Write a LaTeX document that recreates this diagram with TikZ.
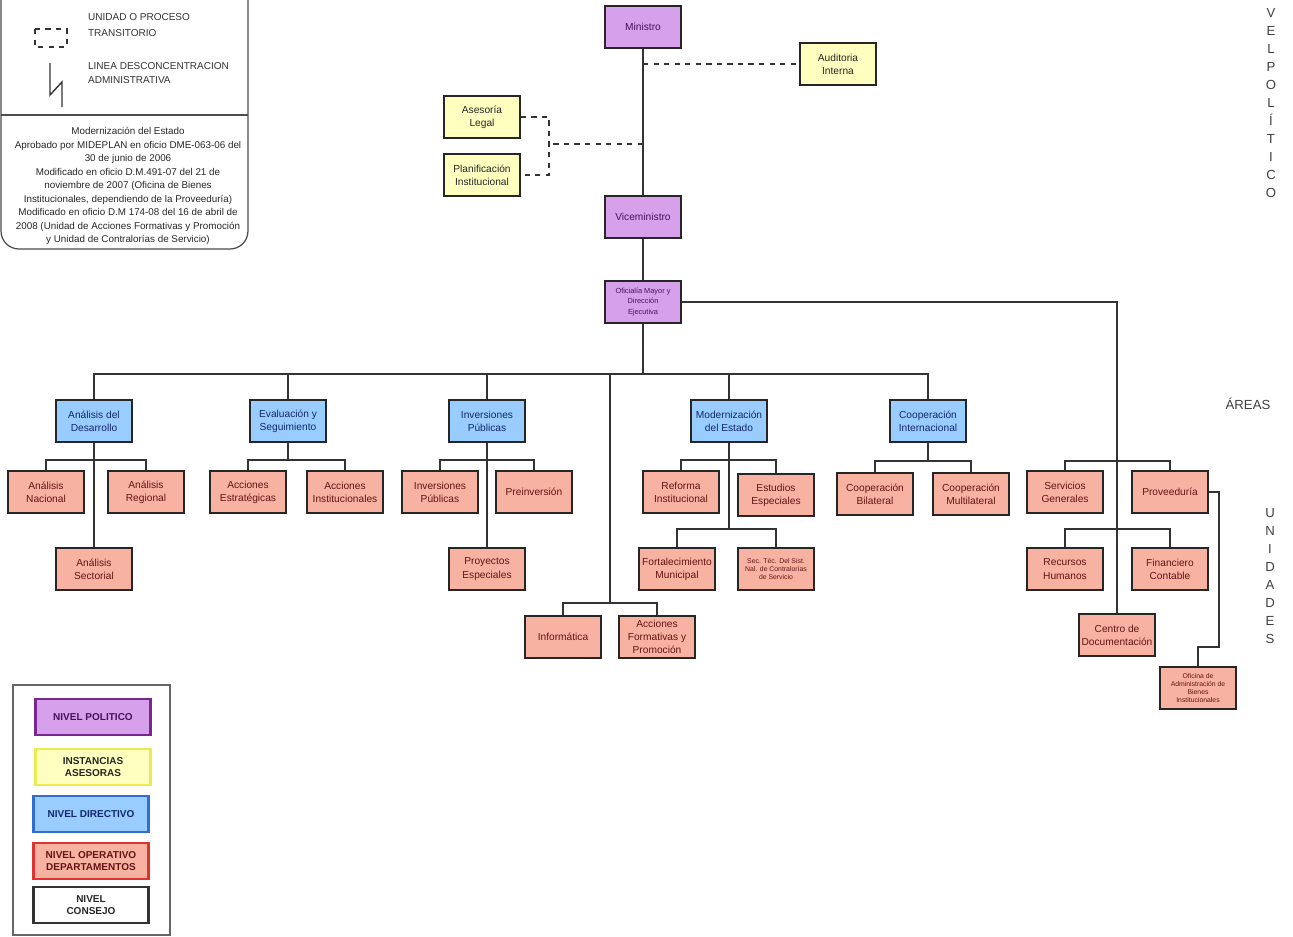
\documentclass[tikz,border=0pt]{standalone}
\usepackage{fontspec}
\setmainfont{Liberation Sans}
\usepackage{tikz}
\definecolor{polfill}{RGB}{214,160,234}
\definecolor{asefill}{RGB}{255,255,192}
\definecolor{dirfill}{RGB}{153,204,255}
\definecolor{opefill}{RGB}{248,178,162}
\definecolor{poltext}{RGB}{70,20,90}
\definecolor{dirtext}{RGB}{20,40,110}
\definecolor{opetext}{RGB}{100,20,20}
\definecolor{polborde}{RGB}{120,40,140}
\definecolor{aseborde}{RGB}{235,235,80}
\definecolor{dirborde}{RGB}{50,110,210}
\definecolor{opeborde}{RGB}{225,50,50}
\tikzstyle{unidad}=[rectangle, draw=black!85, line width=0.9pt, minimum width=1.52cm, minimum height=0.84cm, inner sep=1pt, align=center, font=\fontsize{5.8}{7.5}\selectfont]
\tikzstyle{politico}=[unidad, fill=polfill, text=poltext]
\tikzstyle{asesor}=[unidad, fill=asefill, text=black!85]
\tikzstyle{directivo}=[unidad, fill=dirfill, text=dirtext]
\tikzstyle{operativo}=[unidad, fill=opefill, text=opetext]
\tikzstyle{chico}=[font=\fontsize{3.9}{4.7}\selectfont]
\tikzstyle{nivel}=[rectangle, line width=1.4pt, minimum width=2.3cm, minimum height=0.72cm, inner sep=1pt, align=center, font=\bfseries\fontsize{5.7}{7.2}\selectfont]
\tikzstyle{linea}=[draw=black!80, line width=0.9pt]
\tikzstyle{enlace}=[linea, dashed]
\tikzstyle{rotulo}=[inner sep=1pt, text=black!80, font=\fontsize{5.7}{7}\selectfont]
\tikzstyle{nota}=[inner sep=1pt, align=center, text=black!85, font=\fontsize{5.6}{7.7}\selectfont]
\tikzstyle{letrero}=[inner sep=1pt, align=center, text=black!75, font=\fontsize{7.5}{10.2}\selectfont]

\begin{document}
\begin{tikzpicture}[x=0.02cm, y=-0.02cm]
\useasboundingbox (0,0) rectangle (1293,936);

\coordinate (bus) at (643,374);
\coordinate (binf) at (610,603);
\coordinate (bad) at (94,460);
\coordinate (bes) at (288,460);
\coordinate (bip) at (487,460);
\coordinate (bme) at (729,460);
\coordinate (bme2) at (729,529);
\coordinate (bci) at (928,461);
\coordinate (bof) at (1117,461);
\coordinate (bof2) at (1117,529);
\coordinate (bpv) at (1219,647);
\coordinate (jaud) at (643,64);
\coordinate (jase) at (643,144);
\coordinate (kase) at (549,144);

\node[politico] (min) at (643,27) {Ministro};
\node[politico] (vic) at (643,217) {Viceministro};
\node[politico, font=\fontsize{4.2}{6}\selectfont] (ofi) at (643,302) {Oficialía Mayor y\\Dirección\\Ejecutiva};
\node[asesor] (aud) at (838,64) {Auditoria\\Interna};
\node[asesor] (al) at (482,117) {Asesoría\\Legal};
\node[asesor] (pi) at (482,175) {Planificación\\Institucional};

\node[directivo] (ad) at (94,421) {Análisis del\\Desarrollo};
\node[directivo] (es) at (288,421) {Evaluación y\\Seguimiento};
\node[directivo] (ip) at (487,421) {Inversiones\\Públicas};
\node[directivo] (me) at (729,421) {Modernización\\del Estado};
\node[directivo] (ci) at (928,421) {Cooperación\\Internacional};

\node[operativo] (an) at (46,492) {Análisis\\Nacional};
\node[operativo] (ar) at (146,492) {Análisis\\Regional};
\node[operativo] (as) at (94,569) {Análisis\\Sectorial};
\node[operativo] (ae) at (248,492) {Acciones\\Estratégicas};
\node[operativo] (ai) at (345,492) {Acciones\\Institucionales};
\node[operativo] (ipp) at (440,492) {Inversiones\\Públicas};
\node[operativo] (pre) at (534,492) {Preinversión};
\node[operativo] (pe) at (487,569) {Proyectos\\Especiales};
\node[operativo] (inf) at (563,637) {Informática};
\node[operativo] (afp) at (657,637) {Acciones\\Formativas y\\Promoción};
\node[operativo] (ri) at (681,492) {Reforma\\Institucional};
\node[operativo] (ee) at (776,495) {Estudios\\Especiales};
\node[operativo] (fm) at (677,569) {Fortalecimiento\\Municipal};
\node[operativo, chico] (st) at (776,569) {Sec. Téc. Del Sist.\\Nal. de Contralorías\\de Servicio};
\node[operativo] (cb) at (875,494) {Cooperación\\Bilateral};
\node[operativo] (cm) at (971,494) {Cooperación\\Multilateral};
\node[operativo] (sg) at (1065,492) {Servicios\\Generales};
\node[operativo] (pv) at (1170,492) {Proveeduría};
\node[operativo] (rh) at (1065,569) {Recursos\\Humanos};
\node[operativo] (fc) at (1170,569) {Financiero\\Contable};
\node[operativo] (cd) at (1117,635) {Centro de\\Documentación};
\node[operativo, chico] (oab) at (1198,688) {Oficina de\\Administración de\\Bienes\\Institucionales};

\draw[linea] (min) -- (vic) -- (ofi) -- (bus);
\draw[linea] (bus) -| (ad); \draw[linea] (bus) -| (es); \draw[linea] (bus) -| (ip);
\draw[linea] (bus) -| (binf); \draw[linea] (bus) -| (me); \draw[linea] (bus) -| (ci);
\draw[linea] (ad) -- (as); \draw[linea] (bad) -| (an); \draw[linea] (bad) -| (ar);
\draw[linea] (es) -- (bes) -| (ae); \draw[linea] (bes) -| (ai);
\draw[linea] (ip) -- (pe); \draw[linea] (bip) -| (ipp); \draw[linea] (bip) -| (pre);
\draw[linea] (binf) -| (inf); \draw[linea] (binf) -| (afp);
\draw[linea] (me) -- (bme2) -| (fm); \draw[linea] (bme2) -| (st);
\draw[linea] (bme) -| (ri); \draw[linea] (bme) -| (ee);
\draw[linea] (ci) -- (bci) -| (cb); \draw[linea] (bci) -| (cm);
\draw[linea] (ofi) -| (cd);
\draw[linea] (bof) -| (sg); \draw[linea] (bof) -| (pv);
\draw[linea] (bof2) -| (rh); \draw[linea] (bof2) -| (fc);
\draw[linea] (pv) -| (bpv) -| (oab);
\draw[enlace] (jaud) -- (aud);
\draw[enlace] (jase) -- (kase);
\draw[enlace] (al) -| (kase) |- (pi);

\draw[black!70, line width=0.7pt, rounded corners=0.36cm] (1,0) -- (1,249) -- (248,249) -- (248,0);
\draw[black!70, line width=0.7pt] (1,115) -- (248,115);
\draw[black!80, line width=0.8pt, dashed] (35,29) rectangle (67,47);
\draw[black!80, line width=0.8pt] (50,63) -- (50,95) -- (62,82) -- (62,107);
\node[rotulo, anchor=west] (t1) at (86,17) {UNIDAD O PROCESO};
\node[rotulo, anchor=west] (t2) at (86,33) {TRANSITORIO};
\node[rotulo, anchor=west] (t3) at (86,66) {LINEA DESCONCENTRACION};
\node[rotulo, anchor=west] (t4) at (86,80) {ADMINISTRATIVA};
\node[nota] (nota) at (128,186) {Modernización del Estado\\Aprobado por MIDEPLAN en oficio DME-063-06 del\\30 de junio de 2006\\Modificado en oficio D.M.491-07 del 21 de\\noviembre de 2007 (Oficina de Bienes\\Institucionales, dependiendo de la Proveeduría)\\Modificado en oficio D.M 174-08 del 16 de abril de\\2008 (Unidad de Acciones Formativas y Promoción\\y Unidad de Contralorías de Servicio)};

\draw[black!60, line width=0.6pt] (13,685) rectangle (170,935);
\node[nivel, fill=polfill, draw=polborde, text=poltext] (npol) at (93,717) {NIVEL POLITICO};
\node[nivel, fill=asefill, draw=aseborde, text=black!85] (nase) at (93,767) {INSTANCIAS\\ASESORAS};
\node[nivel, fill=dirfill, draw=dirborde, text=dirtext] (ndir) at (91,814) {NIVEL DIRECTIVO};
\node[nivel, fill=opefill, draw=opeborde, text=opetext] (nope) at (91,861) {NIVEL OPERATIVO\\DEPARTAMENTOS};
\node[nivel, draw=black!80, text=black!85] (ncon) at (91,905) {NIVEL\\CONSEJO};

\node[letrero] (vpol) at (1271,103) {V\\E\\L\\P\\O\\L\\Í\\T\\I\\C\\O};
\node[letrero] (areas) at (1248,404) {ÁREAS};
\node[letrero] (unid) at (1270,576) {U\\N\\I\\D\\A\\D\\E\\S};
\end{tikzpicture}
\end{document}
